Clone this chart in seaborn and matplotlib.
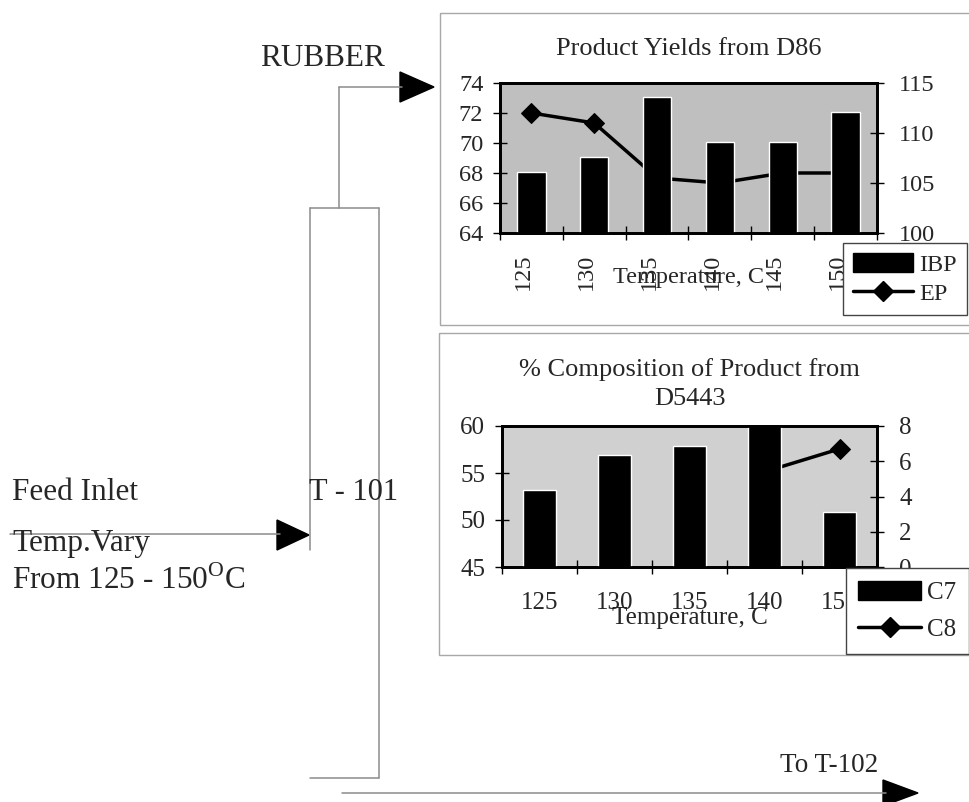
import numpy as np
import pandas as pd
import matplotlib
matplotlib.use("Agg")
import matplotlib.pyplot as plt
import matplotlib.transforms as mtransforms
from matplotlib.patches import Patch, Rectangle, Polygon
from matplotlib.lines import Line2D
import seaborn as sns

# ---------------- data ----------------
temps_d86 = ["125", "130", "135", "140", "145", "150"]
ibp = [68.1, 69.1, 73.1, 70.1, 70.1, 72.1]
ep = [112.0, 111.0, 105.5, 105.0, 106.0, 106.0]

temps_d5443 = ["125", "130", "135", "140", "150"]
c7 = [53.2, 56.9, 57.9, 60.3, 50.9]
c8 = [np.nan, np.nan, np.nan, 5.4, 6.7]

# ---------------- style ----------------
sns.set_theme(style="white")
plt.rcParams["font.family"] = ["Liberation Serif", "DejaVu Serif"]
plt.rcParams["mathtext.fontset"] = "custom"
plt.rcParams["mathtext.rm"] = "Liberation Serif"

W, H = 970, 802
fig = plt.figure(figsize=(W / 100, H / 100), dpi=100)


def fx(px):
    return px / W


def fy(py):
    return 1 - py / H


# ---------------- process diagram (background layer) ----------------
bg = fig.add_axes([0, 0, 1, 1], zorder=0)
bg.set_xlim(0, W)
bg.set_ylim(H, 0)
bg.axis("off")
lc = "#8c8c8c"
lw = 1.1
# column T-101
bg.plot([310, 379], [208, 208], color=lc, lw=lw)
bg.plot([379, 379], [208, 778], color=lc, lw=lw)
bg.plot([310, 310], [208, 550], color=lc, lw=lw)
bg.plot([310, 379], [778, 778], color=lc, lw=lw)
# rubber outlet
bg.plot([339, 339], [208, 87], color=lc, lw=lw)
bg.plot([339, 402], [87, 87], color=lc, lw=lw)
bg.add_patch(Polygon([[400, 72], [400, 102], [434, 87]], closed=True, color="black"))
# feed inlet
bg.plot([10, 280], [534, 534], color=lc, lw=lw)
bg.add_patch(Polygon([[277, 520], [277, 550], [309, 535]], closed=True, color="black"))
# bottom product
bg.plot([342, 886], [793, 793], color=lc, lw=lw)
bg.add_patch(Polygon([[883, 780], [883, 806], [918, 793]], closed=True, color="black"))
# chart frames
bg.add_patch(Rectangle((440, 13), 545, 312, fill=False, ec="#a8a8a8", lw=1))
bg.add_patch(Rectangle((439, 333), 545, 322, fill=False, ec="#a8a8a8", lw=1))

tfs = 22.5
bg.text(260, 58, "RUBBER", fontsize=tfs, va="center", ha="left")
bg.text(12, 493, "Feed Inlet", fontsize=tfs, va="center", ha="left")
bg.text(12, 544, "Temp.Vary", fontsize=tfs, va="center", ha="left")
bg.text(12, 581, r"From 125 - 150$^{\mathrm{O}}$C", fontsize=tfs, va="center", ha="left")
bg.text(309, 492, "T - 101", fontsize=tfs - 0.5, va="center", ha="left")
bg.text(780, 765, "To T-102", fontsize=19.5, va="center", ha="left")


# ---------------- charts ----------------
def chart(rect_px, cats, bar_vals, line_vals, ylim_l, yt_l, ylim_r, yt_r, face,
          xrot, fs, xpad, names, leg_xy, leg_spacing, title, title_pad, xlab_y,
          title_fs, title_ls=1.2, borderpad=0.45, label_dx=0):
    l, t, r, b = rect_px
    ax = fig.add_axes([fx(l), fy(b), (r - l) / W, (b - t) / H])
    ax2 = ax.twinx()
    ax2.set_zorder(1)
    ax.set_zorder(2)
    ax.patch.set_visible(False)
    ax2.patch.set_visible(True)
    ax2.patch.set_facecolor(face)

    n = len(cats)
    df = pd.DataFrame({"Temperature": cats, "bar": bar_vals,
                       "line": line_vals, "pos": np.arange(n)})
    sns.barplot(data=df, x="Temperature", y="bar", ax=ax, color="black",
                saturation=1, width=0.45)
    sns.lineplot(data=df, x="pos", y="line", ax=ax2, color="black",
                 marker="D", markersize=10, linewidth=2.5,
                 markeredgecolor="black")

    ax.set_xlim(-0.5, n - 0.5)
    ax.set_ylim(*ylim_l)
    ax.set_yticks(yt_l)
    ax2.set_ylim(*ylim_r)
    ax2.set_yticks(yt_r)
    ax.set_ylabel("")
    ax2.set_ylabel("")

    ax.set_xticks(np.arange(n + 1) - 0.5, labels=[""] * (n + 1))
    ax.set_xticks(np.arange(n), labels=cats, minor=True)
    ax.tick_params(axis="x", which="major", direction="inout", length=10,
                   width=1, bottom=True, color="black")
    ax.tick_params(axis="x", which="minor", length=0, pad=xpad,
                   labelsize=fs, labelrotation=xrot, bottom=True)
    ax.tick_params(axis="y", direction="inout", length=10, width=1,
                   left=True, pad=7, labelsize=fs, color="black")
    ax2.tick_params(axis="y", direction="inout", length=10, width=1,
                    right=True, left=False, pad=11, labelsize=fs, color="black")

    if label_dx:
        off = mtransforms.ScaledTranslation(label_dx / 100, 0, fig.dpi_scale_trans)
        for lab in ax.get_xticklabels(minor=True):
            lab.set_transform(lab.get_transform() + off)

    for a in (ax, ax2):
        for s in a.spines.values():
            s.set_color("black")
            s.set_linewidth(2)
            s.set_visible(True)

    ax.set_xlabel("Temperature, C", fontsize=fs)
    ax.xaxis.set_label_coords(0.5, (b - xlab_y) / (b - t))
    ax.xaxis.label.set_va("center")

    ax.set_title(title, fontsize=title_fs, pad=title_pad, linespacing=title_ls)

    handles = [Patch(facecolor="black", edgecolor="black"),
               Line2D([0], [0], color="black", lw=2.5, marker="D",
                      markersize=10)]
    leg = ax.legend(handles, names, loc="upper left",
                    bbox_to_anchor=(fx(leg_xy[0]), fy(leg_xy[1])),
                    bbox_transform=fig.transFigure, frameon=True,
                    fancybox=False, framealpha=1, edgecolor="#444444",
                    fontsize=fs, handlelength=2.5, handleheight=0.85,
                    handletextpad=0.25, borderpad=borderpad,
                    labelspacing=leg_spacing, borderaxespad=0)
    leg.get_frame().set_linewidth(1)
    leg.set_zorder(10)
    return ax, ax2


chart((500, 83, 877, 233), temps_d86, ibp, ep,
      (64, 74), [64, 66, 68, 70, 72, 74], (100, 115), [100, 105, 110, 115],
      "#bfbfbf", 90, 17.5, 15, ["IBP", "EP"], (843, 243), 0.25,
      "Product Yields from D86", 20, 277, 19, borderpad=0.4, label_dx=-8)

chart((502, 426, 877, 567), temps_d5443, c7, c8,
      (45, 60), [45, 50, 55, 60], (0, 8), [0, 2, 4, 6, 8],
      "#d0d0d0", 0, 18, 18, ["C7", "C8"], (846, 568), 0.55,
      "% Composition of Product from\nD5443", 15, 618, 19, 1.4, borderpad=0.5)

fig.savefig("out.png", dpi=100)
